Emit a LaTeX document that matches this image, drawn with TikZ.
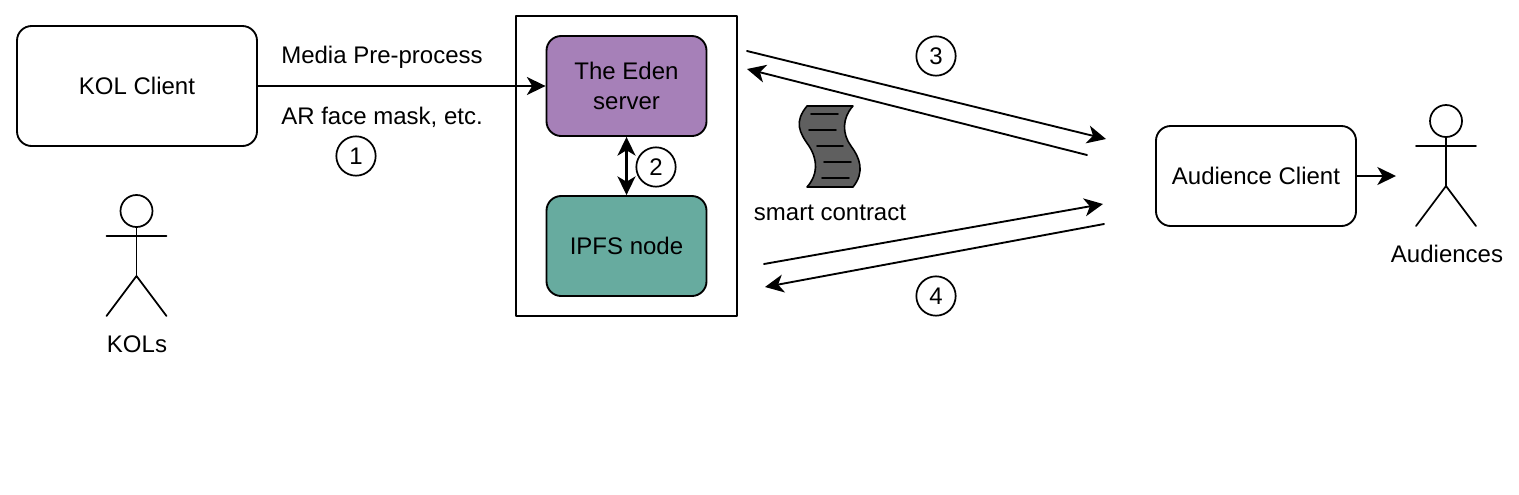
\documentclass[tikz,border=0pt]{standalone}
\usepackage{fontspec}
\setmainfont{Liberation Sans}
\usetikzlibrary{arrows.meta}
\tikzset{
  box/.style={draw,line width=1.4pt,rounded corners=11pt,inner sep=0pt,align=center,minimum width=#1},
  box/.default=120pt,
  num/.style={draw,circle,line width=1.3pt,minimum size=29.5pt,inner sep=0pt},
  lbl/.style={inner sep=0pt},
  link/.style={line width=1.4pt,-{Stealth[length=14pt,width=13.5pt,inset=4pt]}}
}
\newcommand{\actor}[3]{% name, x, top y of the head
  \node[draw,circle,line width=1.3pt,minimum size=24pt,inner sep=0pt] (#1head) at (#2,#3+16) {};
  \coordinate (#1hip) at (#2,#3+81);
  \draw[line width=1.3pt] (#1head.south) -- (#1hip);
  \draw[line width=1.3pt] (#2-30,#3+41) -- (#2+30,#3+41);
  \draw[line width=1.3pt] (#2-30,#3+121) -- (#1hip) -- (#2+30,#3+121);
}
\begin{document}
\begin{tikzpicture}[x=0.75pt,y=-0.75pt,line cap=round,line join=round,font=\fontsize{18pt}{22.5pt}\selectfont]
    \useasboundingbox (0,0) rectangle (1519,494);
    % boxes
    \draw[line width=1.4pt] (516,16) rectangle (737,316);
    \node[box=180pt,minimum height=90pt] (kol) at (137,86) {KOL Client};
    \node[box,minimum height=75pt,fill={rgb,255:red,166;green,128;blue,184}] (eden) at (626.5,86) {The Eden\\server};
    \node[box,minimum height=75pt,fill={rgb,255:red,103;green,171;blue,159}] (ipfs) at (626.5,246) {IPFS node};
    \node[box=150pt,minimum height=75pt] (aud) at (1256,176) {Audience Client};
    % free ends
    \coordinate (audout) at (1396,176);
    \coordinate (a3) at (747,51);
    \coordinate (b3) at (1106,139);
    \coordinate (c3) at (1087,155);
    \coordinate (d3) at (747,69);
    \coordinate (a4) at (764,264);
    \coordinate (b4) at (1103,204);
    \coordinate (c4) at (1104,224);
    \coordinate (d4) at (765,287);
    % arrows
    \draw[link] (kol) -- (eden);
    \draw[link,line width=1.9pt,{Stealth[length=14pt,width=13.5pt,inset=4pt]}-{Stealth[length=14pt,width=13.5pt,inset=4pt]}] (eden) -- (ipfs);
    \draw[link] (aud) -- (audout);
    \draw[link] (a3) -- (b3);
    \draw[link] (c3) -- (d3);
    \draw[link] (a4) -- (b4);
    \draw[link] (c4) -- (d4);
    % labels
    \node[lbl] (media) at (382,57.5) {Media Pre-process};
    \node[lbl] (mask) at (382,117.5) {AR face mask, etc.};
    \node[lbl] (contract) at (830,213) {smart contract};
    \node[num] (one) at (356,156) {1};
    \node[num,fill=white] (two) at (656,167) {2};
    \node[num] (three) at (936,56) {3};
    \node[num] (four) at (936,296) {4};
    % scroll
    \draw[line width=1.2pt,fill={rgb,255:red,95;green,95;blue,95}] (807,106) -- (853,106)
      .. controls (842,118) and (842,134) .. (851,146)
      .. controls (860,158) and (865,172) .. (853,187)
      -- (807,187)
      .. controls (818,175) and (818,160) .. (809,146)
      .. controls (799,132) and (794,122) .. (807,106) -- cycle;
    \draw[line width=1.2pt] (811,114) -- (838,114);
    \draw[line width=1.2pt] (809,130) -- (836,130);
    \draw[line width=1.2pt] (817,146) -- (843,146);
    \draw[line width=1.2pt] (824,162) -- (851,162);
    \draw[line width=1.2pt] (822,178) -- (849,178);
    % people
    \actor{k}{136.5}{195}
    \node[lbl] (kols) at (137,344) {KOLs};
    \actor{u}{1446}{105}
    \node[lbl] (auds) at (1447,254) {Audiences};
\end{tikzpicture}
\end{document}
